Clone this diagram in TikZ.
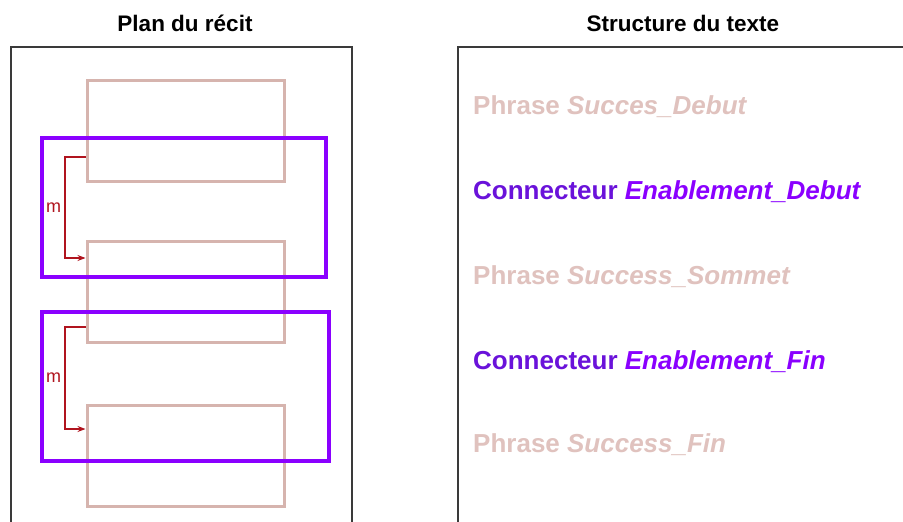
\documentclass[tikz,border=0pt]{standalone}
\usepackage{fontspec}
\setmainfont{Liberation Sans}
\usepackage{xcolor}
\usepackage{tikz}
\usetikzlibrary{arrows.meta, positioning}
\definecolor{rbrown}{HTML}{D6B4AE}
\definecolor{rpink}{HTML}{E0C2BE}
\definecolor{rviolet}{HTML}{8A00FF}
\definecolor{rvioletdark}{HTML}{6A12DA}
\definecolor{rred}{HTML}{B0141E}
\definecolor{rframe}{HTML}{3A3A3A}

\begin{document}
\begin{tikzpicture}[x=1pt, y=-1pt,
  phrasebox/.style={draw=rbrown, line width=3pt, inner sep=0pt,
    minimum width=197pt, minimum height=101pt},
  linkbox/.style={draw=rviolet, line width=3.6pt, inner sep=0pt},
  marrow/.style={draw=rred, line width=1.1pt, -{Stealth[length=8pt, width=6pt]}},
  paneltitle/.style={font=\fontsize{22.5}{26}\selectfont\bfseries},
  phrasetext/.style={font=\fontsize{26}{30}\selectfont\bfseries, text=rpink, anchor=west, inner sep=0pt},
  linktext/.style={font=\fontsize{26}{30}\selectfont\bfseries, text=rvioletdark, anchor=west, inner sep=0pt}]

  %% page
  \fill[white] (0,0) rectangle (903,522);
  \useasboundingbox (0,0) rectangle (903,522);

  %% titles
  \node[paneltitle] (plan) at (185,23) {Plan du récit};
  \node[paneltitle] (struct) at (683,23) {Structure du texte};

  %% frames
  \draw[rframe, line width=1.4pt] (11,522) -- (11,47) -- (352,47) -- (352,522);
  \draw[rframe, line width=1.4pt] (458,522) -- (458,47) -- (903,47);

  %% story plan: phrases
  \node[phrasebox] (debut) at (185.5,130.5) {};
  \node[phrasebox] (sommet) at (185.5,292) {};
  \node[phrasebox] (fin) at (185.5,455.5) {};

  %% story plan: connectors
  \node[linkbox, minimum width=284pt, minimum height=139pt] (enabdebut) at (183.7,207.2) {};
  \node[linkbox, minimum width=287pt, minimum height=149pt] (enabfin) at (185.3,386.2) {};

  %% m arrows
  \draw[marrow] (debut.west |- 0,157) -- (65,157)
    |- (sommet.west |- 0,258) node[pos=0.25, left, text=rred, font=\fontsize{18}{20}\selectfont] {m};
  \draw[marrow] (sommet.west |- 0,327) -- (65,327)
    |- (fin.west |- 0,429) node[pos=0.25, left, text=rred, font=\fontsize{18}{20}\selectfont] {m};

  %% text structure
  \node[phrasetext] (t1) at (473,107) {Phrase \textit{Succes\_Debut}};
  \node[linktext] (t2) at (473,192) {Connecteur \textit{\color{rviolet}Enablement\_Debut}};
  \node[phrasetext] (t3) at (473,277) {Phrase \textit{Success\_Sommet}};
  \node[linktext] (t4) at (473,362) {Connecteur \textit{\color{rviolet}Enablement\_Fin}};
  \node[phrasetext] (t5) at (473,445) {Phrase \textit{Success\_Fin}};

\end{tikzpicture}
\end{document}
